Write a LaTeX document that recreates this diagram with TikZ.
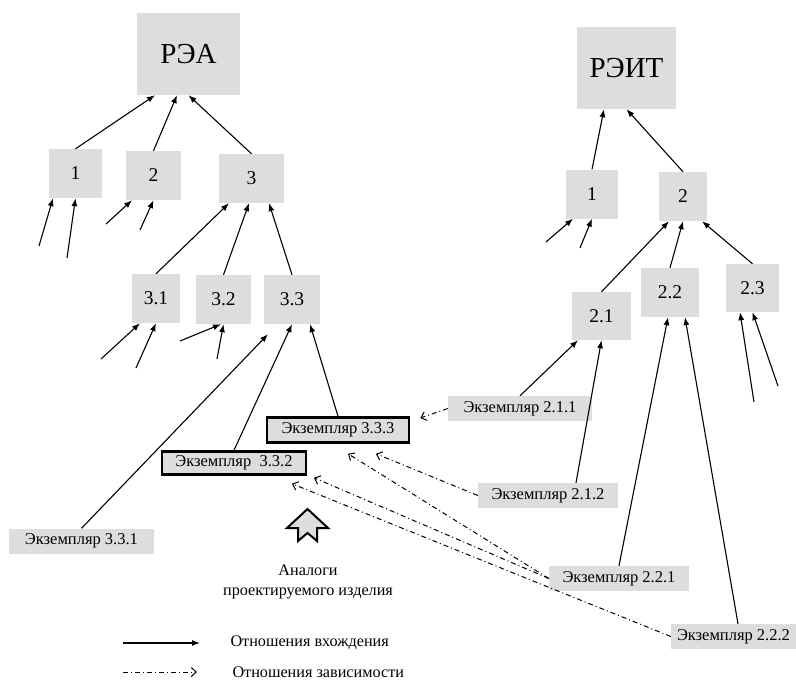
\documentclass[tikz,border=0pt]{standalone}
\usepackage{fontspec}
\setmainfont{Liberation Serif}
\usetikzlibrary{arrows.meta}
\definecolor{boxgray}{RGB}{220,221,223}
\tikzset{
  blk/.style={rectangle, fill=boxgray, inner sep=0pt,
              font=\fontsize{19.5}{21}\selectfont,
              minimum width=53pt, minimum height=49pt},
  rootbox/.style={blk, minimum width=103pt, minimum height=82pt,
                  font=\fontsize{29}{32}\selectfont},
  inst/.style={rectangle, fill=boxgray, inner sep=0pt,
               font=\fontsize{16.5}{18}\selectfont,
               minimum width=142pt, minimum height=25pt},
  analog/.style={inst, draw=black, line width=2.5pt},
  arrow/.style={-{Latex[length=8pt,width=6pt]}, line width=1.1pt},
  deparrow/.style={-{Straight Barb[length=5pt,width=9pt]}, line width=1pt,
                   dash pattern=on 5pt off 3pt on 1pt off 3pt},
  lbl/.style={font=\fontsize{16.2}{20}\selectfont, align=center}
}

\begin{document}
\begin{tikzpicture}[x=1pt, y=-1pt]
  \useasboundingbox (0,0) rectangle (796,680);

  % left tree
  \node[rootbox] (rea) at (188.5,54) {РЭА};
  \node[blk] (a1) at (75.5,173.5) {1};
  \node[blk, minimum width=55pt] (a2) at (153.5,175.5) {2};
  \node[blk, minimum width=65pt] (a3) at (251.5,178.5) {3};
  \node[blk, minimum width=48pt] (a31) at (156,298.5) {3.1};
  \node[blk, minimum width=55pt] (a32) at (223.5,299.5) {3.2};
  \node[blk, minimum width=56pt] (a33) at (292,299.5) {3.3};
  \node[analog] (e333) at (338,430) {Экземпляр 3.3.3};
  \node[analog, minimum width=144pt, minimum height=23pt] (e332) at (234,463) {Экземпляр\ \ 3.3.2};
  \node[inst, minimum width=145pt] (e331) at (81.5,541) {Экземпляр 3.3.1};

  % right tree
  \node[rootbox, minimum width=99pt] (reit) at (626.5,68) {РЭИТ};
  \node[blk, minimum width=52pt] (b1) at (592,194) {1};
  \node[blk, minimum width=48pt] (b2) at (683,196.5) {2};
  \node[blk, minimum width=59pt, minimum height=48pt] (b21) at (601.5,316) {2.1};
  \node[blk, minimum width=58pt] (b22) at (670,292.5) {2.2};
  \node[blk, minimum height=48pt] (b23) at (752.5,288) {2.3};
  \node[inst, minimum width=144pt] (e211) at (520,408.5) {Экземпляр 2.1.1};
  \node[inst, minimum width=140pt] (e212) at (548,495.5) {Экземпляр 2.1.2};
  \node[inst, minimum width=140pt] (e221) at (619,578.5) {Экземпляр 2.2.1};
  \node[inst, minimum width=125pt] (e222) at (733.5,636.5) {Экземпляр 2.2.2};

  % free ends
  \coordinate (f1a) at (39,246);   \coordinate (f1b) at (67,258);
  \coordinate (f2a) at (106,224);  \coordinate (f2b) at (140,230);
  \coordinate (f31a) at (101,359); \coordinate (f31b) at (136,368);
  \coordinate (f32a) at (180,341); \coordinate (f32b) at (217,359);
  \coordinate (g1a) at (546,242);  \coordinate (g1b) at (580,248);
  \coordinate (g23a) at (754,402); \coordinate (g23b) at (778,386);

  \draw[arrow] (a1.north) -- ([xshift=-33.5pt]rea.south);
  \draw[arrow] (a2.north) -- ([xshift=-11.5pt]rea.south);
  \draw[arrow] (a3.north) -- (rea.south);
  \draw[arrow] (f1a) -- ([xshift=-22.5pt]a1.south);
  \draw[arrow] (f1b) -- (a1.south);
  \draw[arrow] (f2a) -- ([xshift=-21.5pt]a2.south);
  \draw[arrow] (f2b) -- (a2.south);
  \draw[arrow] (a31.north) -- ([xshift=-22.5pt]a3.south);
  \draw[arrow] (a32.north) -- ([xshift=-2.5pt]a3.south);
  \draw[arrow] (a33.north) -- ([xshift=17.5pt]a3.south);
  \draw[arrow] (f31a) -- ([xshift=-16pt]a31.south);
  \draw[arrow] (f31b) -- (a31.south);
  \draw[arrow] (f32a) -- ([xshift=-2.5pt]a32.south);
  \draw[arrow] (f32b) -- (a32.south);
  \draw[arrow] (e331.north) -- ([xshift=-24pt,yshift=-10pt]a33.south);
  \draw[arrow] (e332.north) -- (a33.south);
  \draw[arrow] (e333.north) -- ([xshift=18pt]a33.south);

  \draw[arrow] (b1.north) -- ([xshift=-22.5pt]reit.south);
  \draw[arrow] (b2.north) -- (reit.south);
  \draw[arrow] (g1a) -- ([xshift=-19pt]b1.south);
  \draw[arrow] (g1b) -- (b1.south);
  \draw[arrow] (b21.north) -- ([xshift=-14pt]b2.south);
  \draw[arrow] (b22.north) -- (b2.south);
  \draw[arrow] (b23.north) -- ([xshift=19pt]b2.south);
  \draw[arrow] (g23a) -- ([xshift=-12.5pt]b23.south);
  \draw[arrow] (g23b) -- (b23.south);
  \draw[arrow] (e211.north) -- ([xshift=-23.5pt]b21.south);
  \draw[arrow] ([xshift=28pt]e212.north) -- (b21.south);
  \draw[arrow] (e221.north) -- ([xshift=-2pt]b22.south);
  \draw[arrow] ([xshift=4.5pt]e222.north) -- ([xshift=15pt]b22.south);

  % dependencies
  \draw[deparrow] (e211.west) -- ([xshift=10pt,yshift=12pt]e333.east);
  \draw[deparrow] (e212.west) -- ([xshift=38pt,yshift=-10pt]e333.south);
  \draw[deparrow] (e221.west) -- ([xshift=10pt,yshift=-10pt]e333.south);
  \draw[deparrow] (e221.west) -- ([xshift=80pt,yshift=-2pt]e332.south);
  \draw[deparrow] (e222.west) -- ([xshift=58pt,yshift=-8pt]e332.south);

  % analogues
  \draw[line width=2pt, fill=boxgray, line join=miter]
    (307.5,509) -- (287,528) -- (298,528) -- (298,541) -- (307.5,533)
    -- (317,541) -- (317,528) -- (328,528) -- cycle;
  \node[lbl] (analogs) at (308,582) {Аналоги\\проектируемого изделия};

  % legend
  \coordinate (l1a) at (123,643); \coordinate (l1b) at (200,643);
  \node[lbl, anchor=west] (l1) at (227,643) {Отношения вхождения};
  \coordinate (l2a) at (123,672); \coordinate (l2b) at (197,672);
  \node[lbl, anchor=west] (l2) at (229,672) {Отношения зависимости};
  \draw[arrow] (l1a) -- (l1b);
  \draw[deparrow] (l2a) -- (l2b);
\end{tikzpicture}
\end{document}
